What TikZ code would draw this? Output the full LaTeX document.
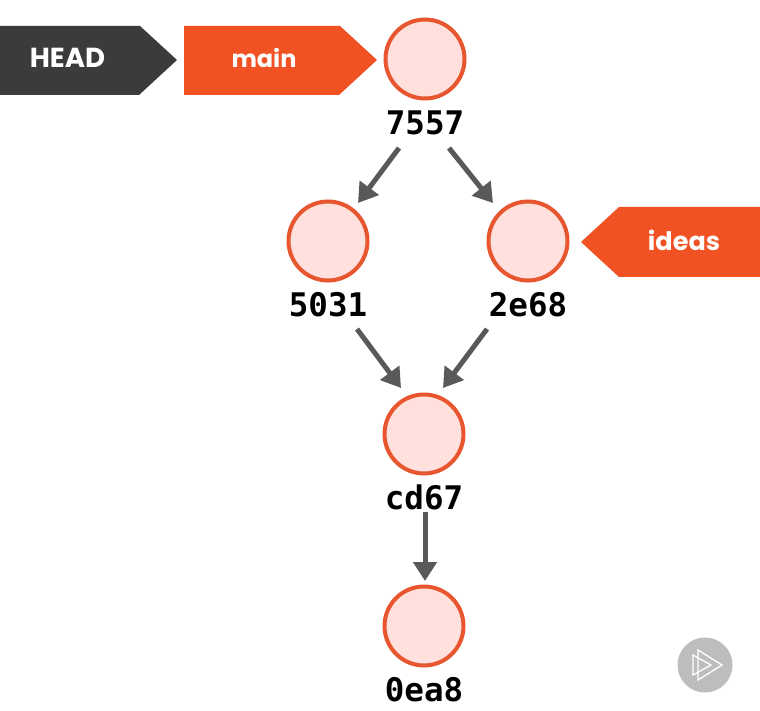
\documentclass[tikz,border=0pt]{standalone}
\usepackage{fontspec}
\setmainfont{Poppins}
\newfontfamily\hashfont{DejaVu Sans Mono}[BoldFont={DejaVu Sans Mono Bold}]
\usetikzlibrary{arrows.meta}
\definecolor{tagorange}{HTML}{F05223}
\definecolor{tagdark}{HTML}{3B3A3C}
\definecolor{ringorange}{HTML}{E8562F}
\definecolor{commitfill}{HTML}{FFE0DC}
\definecolor{connector}{HTML}{595959}
\definecolor{badge}{HTML}{BDBDBD}
\tikzset{
  commit/.style={circle,draw=ringorange,line width=4pt,fill=commitfill,minimum size=79pt,inner sep=0pt},
  hash/.style={font=\hashfont\bfseries\fontsize{32.5}{32.5}\selectfont,text=black,inner sep=0pt},
  tagtext/.style={font=\bfseries\fontsize{#1}{#1}\selectfont,text=white,inner sep=0pt},
  conn/.style={draw=connector,line width=5pt,-{Triangle[length=19pt,width=23pt]}},
  playline/.style={draw=white,line width=1.3pt,line join=miter}
}
\begin{document}
\begin{tikzpicture}[x=1pt,y=-1pt]
\useasboundingbox (0,0) rectangle (760,711);
\fill[white] (0,0) rectangle (760,711);
\fill[tagdark] (0,26) -- (140,26) -- (177,60) -- (139,95) -- (0,95) -- cycle;
\fill[tagorange] (184,26) -- (340,26) -- (377,60) -- (339,95) -- (184,95) -- cycle;
\fill[tagorange] (760,207) -- (619,207) -- (581,242) -- (619,277) -- (760,277) -- cycle;
\node[tagtext=27.5] (head) at (67.5,58) {HEAD};
\node[tagtext=24] (main) at (264,58) {main};
\node[tagtext=25.5] (ideas) at (684,240) {ideas};
\node[commit] (c7557) at (425,59) {};
\node[commit] (c5031) at (328,241) {};
\node[commit] (c2e68) at (528,241) {};
\node[commit] (ccd67) at (424,434) {};
\node[commit] (c0ea8) at (424,626) {};
\node[hash] (l7557) at (425,123) {7557};
\node[hash] (l5031) at (328,305) {5031};
\node[hash] (l2e68) at (528,305) {2e68};
\node[hash] (lcd67) at (424,497) {cd67};
\node[hash] (l0ea8) at (424,690) {0ea8};
\draw[conn] ([shift={(-26,25)}]l7557.center) -- ([shift={(30,-38)}]c5031.center);
\draw[conn] ([shift={(24,25)}]l7557.center) -- ([shift={(-35,-38)}]c2e68.center);
\draw[conn] ([shift={(29,24)}]l5031.center) -- ([shift={(-23,-46)}]ccd67.center);
\draw[conn] ([shift={(-41,24)}]l2e68.center) -- ([shift={(19,-46)}]ccd67.center);
\draw[conn] ([shift={(1,15)}]lcd67.center) -- ([shift={(1,-45)}]c0ea8.center);
\node[circle,fill=badge,minimum size=55pt,inner sep=0pt] (badge) at (705,665) {};
\draw[playline] (698,650) -- (722,665) -- (698,680) -- cycle;
\draw[playline] (693,655) -- (711,665) -- (693,675) -- cycle;
\end{tikzpicture}
\end{document}
